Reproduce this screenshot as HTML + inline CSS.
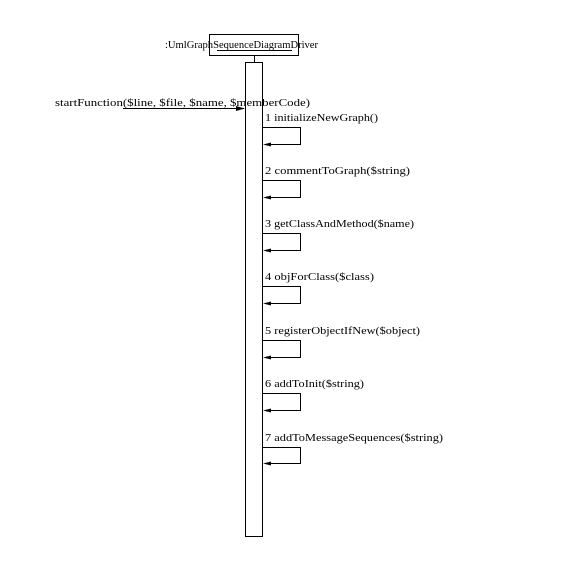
<!DOCTYPE html>
<html><head><style>body{margin:0;background:#fff}</style></head><body>
<svg width="570" height="570" xmlns="http://www.w3.org/2000/svg" font-family="Liberation Serif, serif" font-size="11" fill="#000" stroke-width="1">
<rect x="0" y="0" width="570" height="570" fill="#fff"/>
<rect x="209.5" y="34.5" width="89" height="21" fill="none" stroke="#000"/>
<text x="165" y="48" textLength="153" lengthAdjust="spacingAndGlyphs">:UmlGraphSequenceDiagramDriver</text>
<line x1="217" y1="50.5" x2="292" y2="50.5" stroke="#000"/>
<line x1="254.5" y1="55" x2="254.5" y2="62" stroke="#000"/>
<rect x="245.5" y="62.5" width="17" height="474" fill="none" stroke="#000"/>
<text x="55" y="106" textLength="255" lengthAdjust="spacingAndGlyphs">startFunction($line, $file, $name, $memberCode)</text>
<line x1="123" y1="108.5" x2="244" y2="108.5" stroke="#000"/>
<polygon points="245,108.5 236,106 236,111" fill="#000"/>
<text x="265" y="121" textLength="113" lengthAdjust="spacingAndGlyphs">1 initializeNewGraph()</text>
<polyline points="263,127.5 300.5,127.5 300.5,144.5 265,144.5" fill="none" stroke="#000"/>
<polygon points="263,144.5 271,142.5 271,146.5"/>
<text x="265" y="174" textLength="145" lengthAdjust="spacingAndGlyphs">2 commentToGraph($string)</text>
<polyline points="263,180.5 300.5,180.5 300.5,197.5 265,197.5" fill="none" stroke="#000"/>
<polygon points="263,197.5 271,195.5 271,199.5"/>
<text x="265" y="227" textLength="149" lengthAdjust="spacingAndGlyphs">3 getClassAndMethod($name)</text>
<polyline points="263,233.5 300.5,233.5 300.5,250.5 265,250.5" fill="none" stroke="#000"/>
<polygon points="263,250.5 271,248.5 271,252.5"/>
<text x="265" y="280" textLength="109" lengthAdjust="spacingAndGlyphs">4 objForClass($class)</text>
<polyline points="263,286.5 300.5,286.5 300.5,303.5 265,303.5" fill="none" stroke="#000"/>
<polygon points="263,303.5 271,301.5 271,305.5"/>
<text x="265" y="334" textLength="155" lengthAdjust="spacingAndGlyphs">5 registerObjectIfNew($object)</text>
<polyline points="263,340.5 300.5,340.5 300.5,357.5 265,357.5" fill="none" stroke="#000"/>
<polygon points="263,357.5 271,355.5 271,359.5"/>
<text x="265" y="387" textLength="99" lengthAdjust="spacingAndGlyphs">6 addToInit($string)</text>
<polyline points="263,393.5 300.5,393.5 300.5,410.5 265,410.5" fill="none" stroke="#000"/>
<polygon points="263,410.5 271,408.5 271,412.5"/>
<text x="265" y="441" textLength="178" lengthAdjust="spacingAndGlyphs">7 addToMessageSequences($string)</text>
<polyline points="263,447.5 300.5,447.5 300.5,463.5 265,463.5" fill="none" stroke="#000"/>
<polygon points="263,463.5 271,461.5 271,465.5"/>
</svg>
</body></html>
